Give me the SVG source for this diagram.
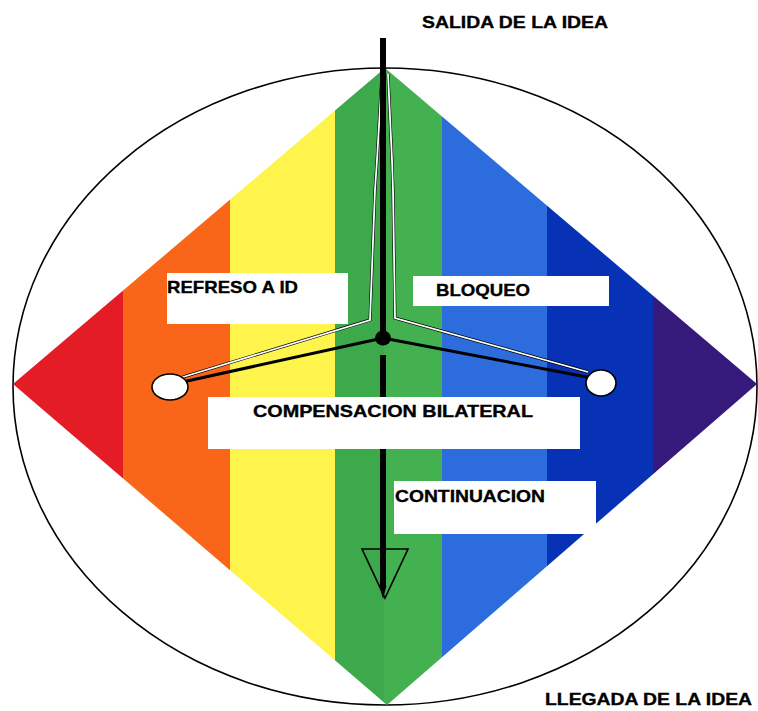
<svg xmlns="http://www.w3.org/2000/svg" width="758" height="711" viewBox="0 0 758 711">
  <style>
    .lbl { font-family: "Liberation Sans", Arial, sans-serif; font-weight: bold; font-size: 17px; fill: #000; stroke: #000; stroke-width: 0.35; }
    .box { fill: #fff; }
    .wl { fill: none; stroke: #fff; stroke-width: 1.8; }
    .wls { fill: none; stroke: #000; stroke-width: 3; }
    .bl { fill: none; stroke: #000; stroke-width: 3; stroke-linecap: round; }
  </style>
  <defs>
    <clipPath id="diamondClip">
      <polygon points="385,68 757,384 387,705 13,384"/>
    </clipPath>
  </defs>
  <rect width="758" height="711" fill="#fff"/>

  <g id="outline">
    <ellipse cx="385" cy="386.5" rx="372" ry="318.5" fill="none" stroke="#000" stroke-width="1.6"/>
  </g>

  <g id="spectrum" clip-path="url(#diamondClip)">
    <rect x="0" y="60" width="123" height="650" fill="#E31C25"/>
    <rect x="123" y="60" width="107" height="650" fill="#FA6619"/>
    <rect x="230" y="60" width="105" height="650" fill="#FEF44C"/>
    <rect x="335" y="60" width="49" height="650" fill="#3CA94B"/>
    <rect x="384" y="60" width="58" height="650" fill="#43B150"/>
    <rect x="442" y="60" width="105" height="650" fill="#2C6CDC"/>
    <rect x="547" y="60" width="106" height="650" fill="#0732B5"/>
    <rect x="653" y="60" width="110" height="650" fill="#351A7C"/>
  </g>

  <g id="connectors">
    <polyline class="wls" points="382,74 377,160 375,190 370,320 183,377"/>
    <polyline class="wls" points="388,74 392,160 393,190 395,318 588,372"/>
    <polyline class="wl" points="382,74 377,160 375,190 370,320 183,377"/>
    <polyline class="wl" points="388,74 392,160 393,190 395,318 588,372"/>
    <line class="bl" x1="383" y1="338" x2="178" y2="383"/>
    <line class="bl" x1="383" y1="338" x2="592" y2="378"/>
    <rect x="380" y="38" width="6" height="300" fill="#000"/>
    <rect x="380" y="355" width="6" height="232" fill="#000"/>
    <polygon points="379.5,586 386.5,586 383,599" fill="#000"/>
    <polygon points="362,549 408,549 385,598" fill="none" stroke="#000" stroke-width="1.6"/>
  </g>

  <g id="hub">
    <ellipse cx="383" cy="338" rx="8" ry="7.5" fill="#000"/>
  </g>

  <g id="leftEnd">
    <ellipse cx="170" cy="387" rx="18" ry="13" fill="#fff" stroke="#000" stroke-width="1.6"/>
  </g>
  <g id="rightEnd">
    <ellipse cx="601" cy="383" rx="15" ry="13" fill="#fff" stroke="#000" stroke-width="1.6"/>
  </g>

  <g id="refreso">
    <rect class="box" x="167" y="273" width="181" height="51"/>
    <text class="lbl" x="167" y="293" textLength="131" lengthAdjust="spacingAndGlyphs">REFRESO A ID</text>
  </g>
  <g id="bloqueo">
    <rect class="box" x="413" y="276" width="196" height="30"/>
    <text class="lbl" x="436" y="296" textLength="94" lengthAdjust="spacingAndGlyphs">BLOQUEO</text>
  </g>
  <g id="compensacion">
    <rect class="box" x="208" y="397" width="372" height="52"/>
    <text class="lbl" x="253" y="417" textLength="280" lengthAdjust="spacingAndGlyphs">COMPENSACION BILATERAL</text>
  </g>
  <g id="continuacion">
    <rect class="box" x="394" y="481" width="202" height="53"/>
    <text class="lbl" x="395" y="502" textLength="150" lengthAdjust="spacingAndGlyphs">CONTINUACION</text>
  </g>
  <g id="salida">
    <text class="lbl" x="422" y="28" textLength="186" lengthAdjust="spacingAndGlyphs">SALIDA DE LA IDEA</text>
  </g>
  <g id="llegada">
    <text class="lbl" x="545" y="705" textLength="207" lengthAdjust="spacingAndGlyphs">LLEGADA DE LA IDEA</text>
  </g>
</svg>
